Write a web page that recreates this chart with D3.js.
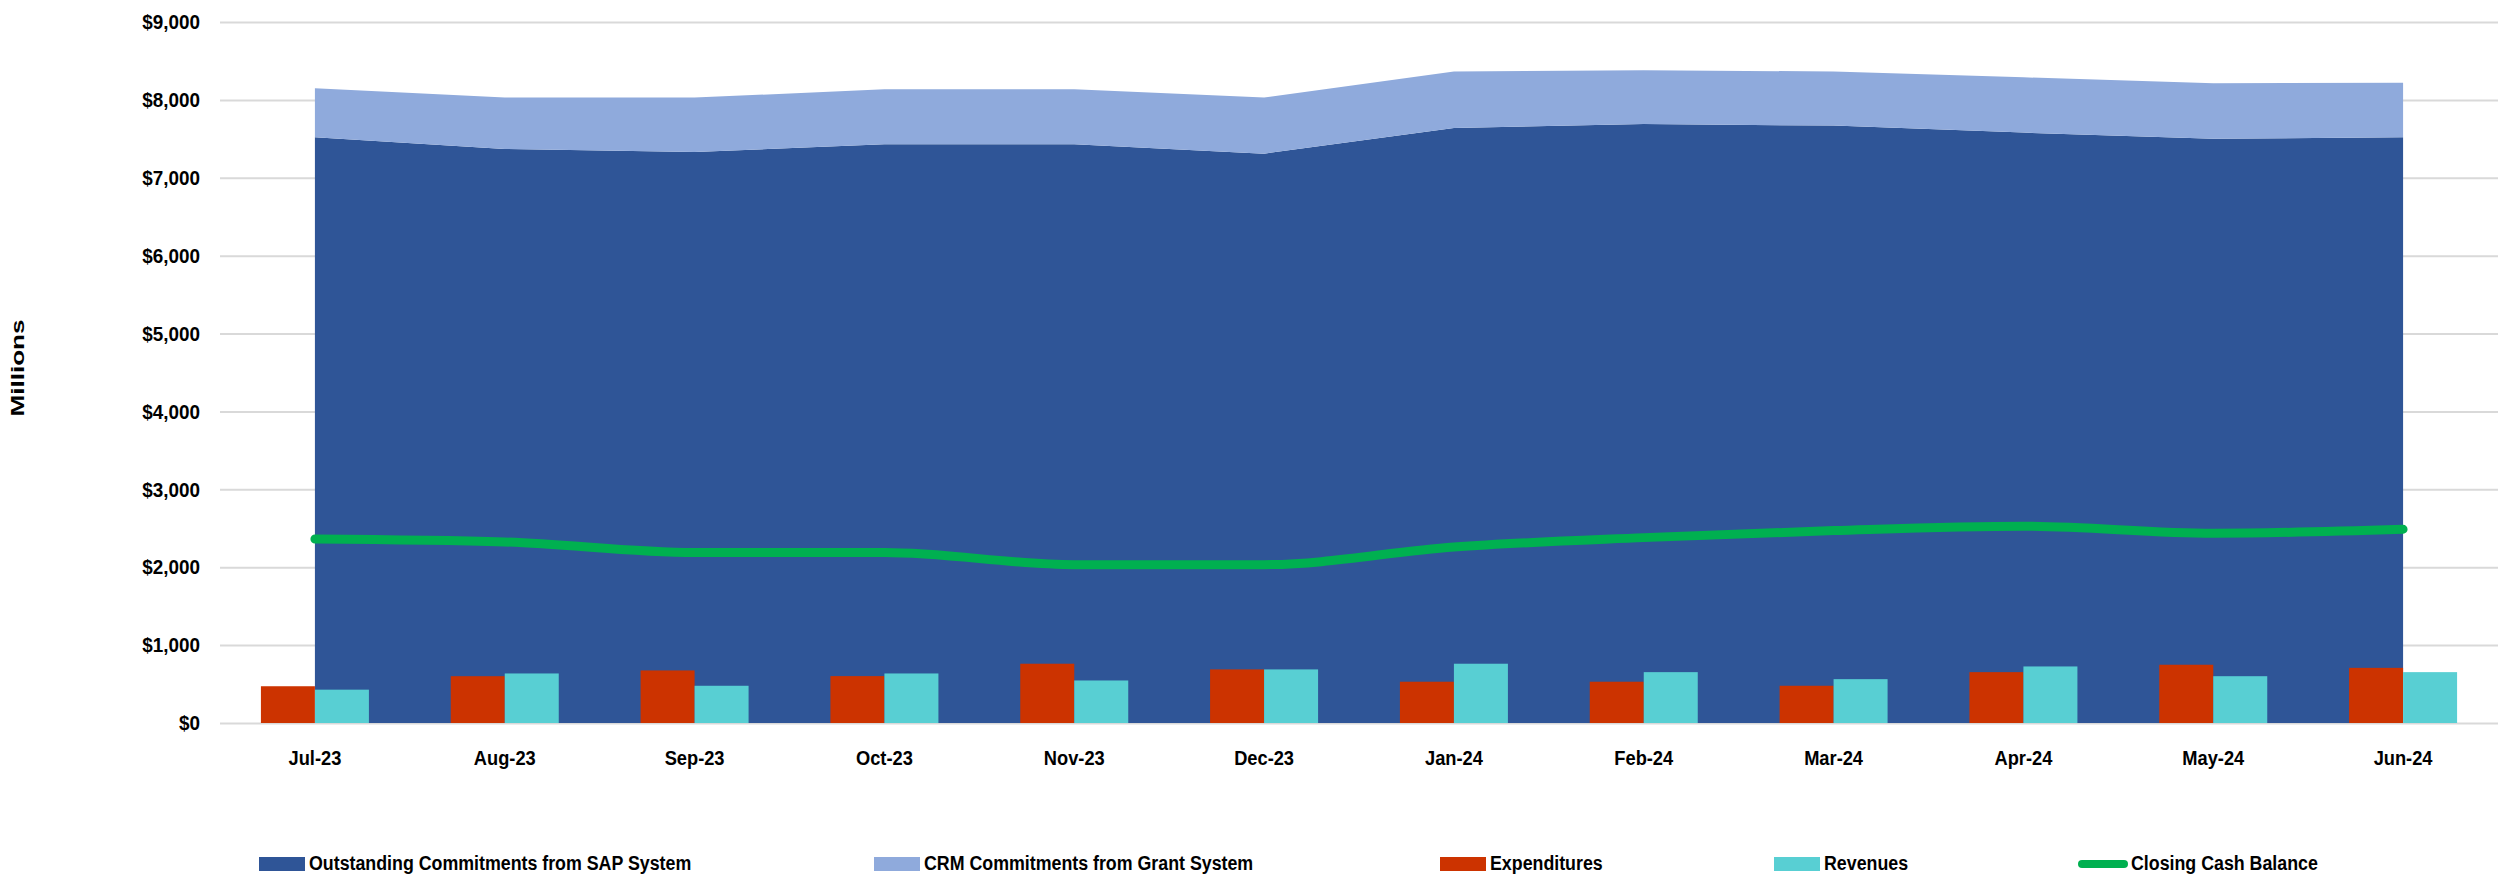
<!DOCTYPE html>
<html>
<head>
<meta charset="utf-8">
<script src="https://cdn.jsdelivr.net/npm/d3@7"></script>
<style>
  html, body { margin: 0; padding: 0; background: #ffffff; }
  svg { display: block; }
  text { font-family: "Liberation Sans", Arial, sans-serif; font-weight: bold; fill: #000; }
</style>
</head>
<body>
<script>
// ---------- Data ----------
const months = ["Jul-23","Aug-23","Sep-23","Oct-23","Nov-23","Dec-23","Jan-24","Feb-24","Mar-24","Apr-24","May-24","Jun-24"];
const sapCommitments = [7520, 7370, 7330, 7430, 7430, 7310, 7640, 7690, 7670, 7580, 7500, 7520];
const crmCommitments = [630, 660, 700, 705, 705, 720, 725, 690, 695, 710, 715, 700];
const expenditures   = [472, 601, 675, 602, 761, 688, 530, 530, 478, 653, 748, 708];
const revenues       = [428, 636, 478, 636, 546, 688, 761, 653, 563, 726, 601, 653];
const closingCash    = [2362, 2324, 2188, 2188, 2033, 2033, 2260, 2380, 2470, 2526, 2436, 2487];
const yTicks = [0, 1000, 2000, 3000, 4000, 5000, 6000, 7000, 8000, 9000];
const seriesNames = ["Outstanding Commitments from SAP System", "CRM Commitments from Grant System", "Expenditures", "Revenues", "Closing Cash Balance"];

// ---------- Layout / style ----------
const W = 2506, H = 875;
const plotLeft = 220, plotRight = 2498, plotTop = 22, plotBottom = 723;
const colors = {
  sap: "#2F5597", crm: "#8FAADC", exp: "#CC3300", rev: "#58CFD3", cash: "#00B050"
};

const table = months.map((m, i) => ({
  month: m, sap: sapCommitments[i], crm: crmCommitments[i],
  exp: expenditures[i], rev: revenues[i], cash: closingCash[i]
}));

const svg = d3.select("body").append("svg").attr("width", W).attr("height", H);

const x = d3.scaleBand().domain(months).range([plotLeft, plotRight]).padding(0);
const y = d3.scaleLinear().domain([0, 9000]).range([plotBottom, plotTop]);
const cx = m => x(m) + x.bandwidth() / 2;

// gridlines
const grid = svg.append("g").attr("transform", `translate(${plotLeft},0)`)
  .call(d3.axisLeft(y).tickValues(yTicks).tickSize(-(plotRight - plotLeft)).tickFormat(""));
grid.select(".domain").remove();
grid.selectAll("line").attr("stroke", "#d9d9d9").attr("stroke-width", 2);

// stacked areas
const stack = d3.stack().keys(["sap", "crm"]);
const stacked = stack(table);
const area = d3.area()
  .x(d => cx(d.data.month))
  .y0(d => y(d[0]))
  .y1(d => y(d[1]));
svg.append("g").selectAll("path").data(stacked).join("path")
  .attr("d", area)
  .attr("fill", d => colors[d.key]);

// bars
const inner = d3.scaleBand().domain(["exp", "rev"]).range([-54, 54]).padding(0);
const barG = svg.append("g");
table.forEach(d => {
  ["exp", "rev"].forEach(k => {
    barG.append("rect")
      .attr("x", cx(d.month) + inner(k))
      .attr("width", inner.bandwidth())
      .attr("y", y(d[k]))
      .attr("height", y(0) - y(d[k]))
      .attr("fill", colors[k]);
  });
});

// line
const line = d3.line()
  .x(d => cx(d.month))
  .y(d => y(d.cash))
  .curve(d3.curveMonotoneX);
svg.append("path").datum(table)
  .attr("d", line)
  .attr("fill", "none")
  .attr("stroke", colors.cash)
  .attr("stroke-width", 9)
  .attr("stroke-linecap", "round")
  .attr("stroke-linejoin", "round");

// y axis labels
const ySx = 0.9;
const yAx = svg.append("g").attr("transform", `translate(${plotLeft},0)`)
  .call(d3.axisLeft(y).tickValues(yTicks).tickSize(0).tickPadding(20)
    .tickFormat(d => "$" + d3.format(",")(d)));
yAx.select(".domain").remove();
yAx.selectAll("text")
  .attr("font-size", 21)
  .attr("x", -20 / ySx)
  .attr("transform", `scale(${ySx},1)`)
  .style("font-family", "'Liberation Sans', Arial, sans-serif")
  .style("font-weight", "bold")
  .attr("fill", "#000");

// x axis labels
const xSx = 0.87;
const xAx = svg.append("g").attr("transform", `translate(0,${plotBottom})`)
  .call(d3.axisBottom(x).tickSize(0).tickPadding(27));
xAx.select(".domain").remove();
xAx.selectAll("text")
  .attr("font-size", 21)
  .attr("transform", `scale(${xSx},1)`)
  .style("font-family", "'Liberation Sans', Arial, sans-serif")
  .style("font-weight", "bold")
  .attr("fill", "#000");

// y title
svg.append("text")
  .attr("transform", "translate(24,368) rotate(-90) scale(1.45,1)")
  .attr("text-anchor", "middle")
  .attr("font-size", 18)
  .text("Millions");

// legend
const legendX = [259, 874, 1440, 1774, 2078];
const legendKeys = ["sap", "crm", "exp", "rev", "cash"];
const lSx = 0.89;
const legend = svg.append("g");
seriesNames.forEach((name, i) => {
  const k = legendKeys[i];
  const g = legend.append("g").attr("transform", `translate(${legendX[i]},0)`);
  let tx;
  if (k === "cash") {
    g.append("line").attr("x1", 4).attr("x2", 46).attr("y1", 864).attr("y2", 864)
      .attr("stroke", colors.cash).attr("stroke-width", 8).attr("stroke-linecap", "round");
    tx = 53;
  } else {
    g.append("rect").attr("x", 0).attr("y", 857).attr("width", 46).attr("height", 14)
      .attr("fill", colors[k]);
    tx = 50;
  }
  g.append("text")
    .attr("transform", `translate(${tx},870) scale(${lSx},1)`)
    .attr("font-size", 20)
    .text(name);
});
</script>
</body>
</html>
